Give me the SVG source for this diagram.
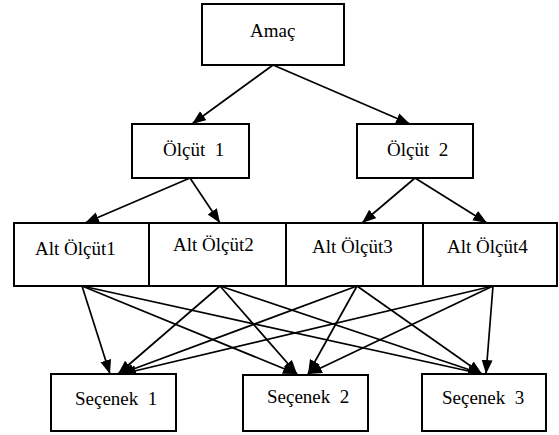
<svg xmlns="http://www.w3.org/2000/svg" width="559" height="435" viewBox="0 0 559 435">
<style>
.box{fill:#fff;stroke:#000;stroke-width:2}
text{font-family:'Liberation Serif','Times New Roman',serif;font-size:19px;fill:#000}
.edge{stroke:#000;stroke-width:1.7;fill:none;marker-end:url(#ah)}
</style>
<defs>
<marker id="ah" markerUnits="userSpaceOnUse" markerWidth="16" markerHeight="12" refX="14" refY="5.5" orient="auto">
<path d="M0,0 L14,5.5 L0,11 Z" fill="#000"/>
</marker>
</defs>
<rect width="559" height="435" fill="#fff"/>
<g id="connectors">
<line class="edge" x1="273" y1="65" x2="192" y2="124"/>
<line class="edge" x1="273" y1="65" x2="410" y2="124"/>
<line class="edge" x1="190" y1="178" x2="85" y2="223"/>
<line class="edge" x1="190" y1="178" x2="220" y2="223"/>
<line class="edge" x1="415" y1="178" x2="362" y2="223"/>
<line class="edge" x1="415" y1="178" x2="487" y2="223"/>
<line class="edge" x1="82" y1="286" x2="110" y2="374"/>
<line class="edge" x1="82" y1="286" x2="297" y2="374"/>
<line class="edge" x1="82" y1="286" x2="482" y2="374"/>
<line class="edge" x1="220" y1="286" x2="118" y2="374"/>
<line class="edge" x1="220" y1="286" x2="297" y2="374"/>
<line class="edge" x1="220" y1="286" x2="482" y2="374"/>
<line class="edge" x1="357" y1="286" x2="120" y2="374"/>
<line class="edge" x1="357" y1="286" x2="308" y2="374"/>
<line class="edge" x1="357" y1="286" x2="482" y2="374"/>
<line class="edge" x1="493" y1="286" x2="122" y2="374"/>
<line class="edge" x1="493" y1="286" x2="308" y2="374"/>
<line class="edge" x1="493" y1="286" x2="486" y2="374"/>
</g>
<g id="amac">
<rect class="box" x="202" y="4" width="142" height="61"/>
<text x="250" y="37">Amaç</text>
</g>
<g id="olcut1">
<rect class="box" x="132" y="124" width="117" height="54"/>
<text x="163" y="156" xml:space="preserve">Ölçüt  1</text>
</g>
<g id="olcut2">
<rect class="box" x="357" y="124" width="116" height="54"/>
<text x="387" y="156" xml:space="preserve">Ölçüt  2</text>
</g>
<g id="alt1">
<rect class="box" x="14" y="223" width="135" height="63"/>
<text x="35" y="255">Alt Ölçüt1</text>
</g>
<g id="alt2">
<rect class="box" x="149" y="223" width="137" height="63"/>
<text x="173" y="251">Alt Ölçüt2</text>
</g>
<g id="alt3">
<rect class="box" x="286" y="223" width="137" height="63"/>
<text x="312" y="253">Alt Ölçüt3</text>
</g>
<g id="alt4">
<rect class="box" x="423" y="223" width="134" height="63"/>
<text x="447" y="253">Alt Ölçüt4</text>
</g>
<g id="secenek1">
<rect class="box" x="51" y="374" width="125" height="57"/>
<text x="75" y="405" xml:space="preserve">Seçenek  1</text>
</g>
<g id="secenek2">
<rect class="box" x="243" y="375" width="125" height="56"/>
<text x="267" y="403" xml:space="preserve">Seçenek  2</text>
</g>
<g id="secenek3">
<rect class="box" x="422" y="374" width="124" height="57"/>
<text x="442" y="404" xml:space="preserve">Seçenek  3</text>
</g>
</svg>
